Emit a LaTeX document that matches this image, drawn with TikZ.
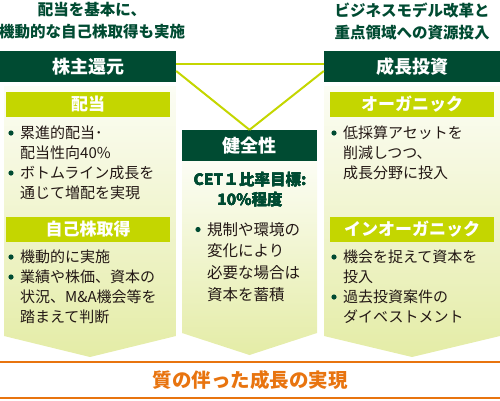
\documentclass[tikz,border=0pt]{standalone}
\usepackage{fontspec}
\setmainfont{Noto Sans CJK JP}
\usetikzlibrary{positioning,calc}

\definecolor{dkgreen}{HTML}{004B32}
\definecolor{lime}{HTML}{C4D600}
\definecolor{palebeg}{HTML}{FCFDF5}
\definecolor{paleend}{HTML}{E4ECA6}
\definecolor{orng}{HTML}{E8740F}
\definecolor{txt}{HTML}{231815}

\tikzset{
  head/.style={fill=dkgreen, text=white, inner sep=0pt, minimum height=31pt,
    font=\fontsize{18}{18}\selectfont\bfseries},
  sub/.style={fill=lime, text=white, inner sep=0pt, minimum width=164pt,
    minimum height=25pt, font=\fontsize{17}{17}\selectfont\bfseries},
  item/.style={anchor=north west, align=left, inner sep=0pt, text=txt,
    font=\fontsize{15}{20}\selectfont},
  caption/.style={text=dkgreen, align=center, inner sep=0pt,
    font=\fontsize{15.5}{22}\selectfont\bfseries},
  panel/.style={top color=palebeg, bottom color=paleend, draw=none},
  link/.style={draw=lime, line width=2pt},
}
\newcommand{\itemdot}[1]{\fill[dkgreen] (#1.north west) ++(-9,7.5) circle (2.6pt);}

\begin{document}
\begin{tikzpicture}[x=1pt, y=-1pt]
  \useasboundingbox (0,0) rectangle (500,400);
  % panels
  \shade[panel] (4,86) -- (176,86) -- (176,336) -- (90,357) -- (4,336) -- cycle;
  \shade[panel] (182,161) -- (317,161) -- (317,333) -- (249.5,355) -- (182,333) -- cycle;
  \shade[panel] (324,86) -- (500,86) -- (500,336) -- (412,357) -- (324,336) -- cycle;
  % captions
  \node[caption] (capL) at (92,21) {配当を基本に、\\機動的な自己株取得も実施};
  \node[caption] (capR) at (412,21) {ビジネスモデル改革と\\重点領域への資源投入};
  % headers
  \node[head, minimum width=176pt] (return) at (88,66.5) {株主還元};
  \node[head, minimum width=176pt] (invest) at (412,66.5) {成長投資};
  \node[head, minimum width=135pt] (health) at (249.5,145.5) {健全性};
  % links
  \draw[link] ([yshift=2.5pt]return.east) -- ([yshift=2.5pt]invest.west);
  \draw[link] ([yshift=-4.5pt]return.east) -- (health.north);
  \draw[link] ([yshift=-4.5pt]invest.west) -- (health.north);
  % left column
  \node[sub] (div) at (88,104) {配当};
  \node[item] (l1) at (20,125.5) {累進的配当･\\配当性向40\%};
  \node[item] (l2) at (20,165.5) {ボトムライン成長を\\通じて増配を実現};
  \node[sub] (buy) at (88,229.5) {自己株取得};
  \node[item] (l3) at (20,249.5) {機動的に実施};
  \node[item] (l4) at (20,269.5) {業績や株価、資本の\\状況、M\&A機会等を\\踏まえて判断};
  \foreach \n in {l1,l2,l3,l4} \itemdot{\n}
  % middle column
  \node[caption, font=\fontsize{15.5}{20}\selectfont\bfseries] (cet) at (250,190) {CET１比率目標:\\10\%程度};
  \node[item, font=\fontsize{15.5}{21.7}\selectfont] (m1) at (207,222) {規制や環境の\\変化により\\必要な場合は\\資本を蓄積};
  \itemdot{m1}
  % right column
  \node[sub] (org) at (412,104) {オーガニック};
  \node[item] (r1) at (343,125.5) {低採算アセットを\\削減しつつ、\\成長分野に投入};
  \node[sub] (inorg) at (412,229.5) {インオーガニック};
  \node[item] (r2) at (343,249.5) {機会を捉えて資本を\\投入};
  \node[item] (r3) at (343,289.5) {過去投資案件の\\ダイベストメント};
  \foreach \n in {r1,r2,r3} \itemdot{\n}
  % bottom band
  \coordinate (bandTL) at (0,362);
  \coordinate (bandTR) at (500,362);
  \coordinate (bandBL) at (0,398);
  \coordinate (bandBR) at (500,398);
  \draw[orng, line width=2.6pt] (bandTL) -- (bandTR);
  \draw[orng, line width=2.6pt] (bandBL) -- (bandBR);
  \node[text=orng, font=\fontsize{19.5}{19.5}\selectfont\bfseries] (goal) at (250,380) {質の伴った成長の実現};
\end{tikzpicture}
\end{document}
